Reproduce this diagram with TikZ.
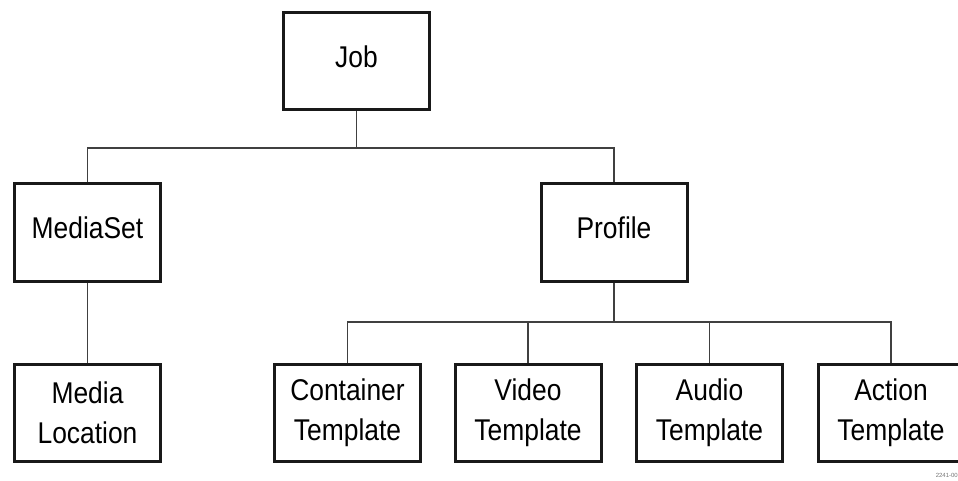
\documentclass[tikz,border=0pt]{standalone}
\usepackage{fontspec}
\setmainfont{Liberation Sans}
\newfontfamily\boxfont[FakeStretch=0.88]{Liberation Sans}
\begin{document}
\begin{tikzpicture}[x=1pt,y=-1pt,
  box/.style={draw=black!90, line width=3pt, fill=white, minimum width=146pt, minimum height=97pt,
    inner sep=0pt, align=center, font=\boxfont\fontsize{30}{40}\selectfont},
  onebox/.style={box, text height=21.5pt, text depth=9pt},
  conn/.style={draw=black!75, line width=1.5pt}]
\useasboundingbox (0,0) rectangle (958,481);
\node[onebox] (job) at (356.5,61.5) {Job};
\node[onebox] (mediaset) at (87.5,232.5) {MediaSet};
\node[onebox] (profile) at (614,232.5) {Profile};
\node[box] (medialoc) at (87.5,412.5) {Media\\Location};
\node[box] (container) at (347.5,412.5) {Container\\Template};
\node[box] (video) at (528,412.5) {Video\\Template};
\node[box] (audio) at (709.5,412.5) {Audio\\Template};
\node[box] (action) at (891,412.5) {Action\\Template};
\coordinate (jb) at (356.5,148);
\coordinate (pb) at (614,322);
\draw[conn] (job.south) -- (jb);
\draw[conn] (mediaset.north) |- (jb) -| (profile.north);
\draw[conn] (mediaset.south) -- (medialoc.north);
\draw[conn] (profile.south) -- (pb);
\draw[conn] (container.north) |- (pb) -| (action.north);
\draw[conn] (video.north) -- (video.north |- pb);
\draw[conn] (audio.north) -- (audio.north |- pb);
\node[anchor=east, font=\fontsize{6}{7}\selectfont, text=black!55, inner sep=0pt] (code) at (958,475) {2241-00};
\end{tikzpicture}
\end{document}
